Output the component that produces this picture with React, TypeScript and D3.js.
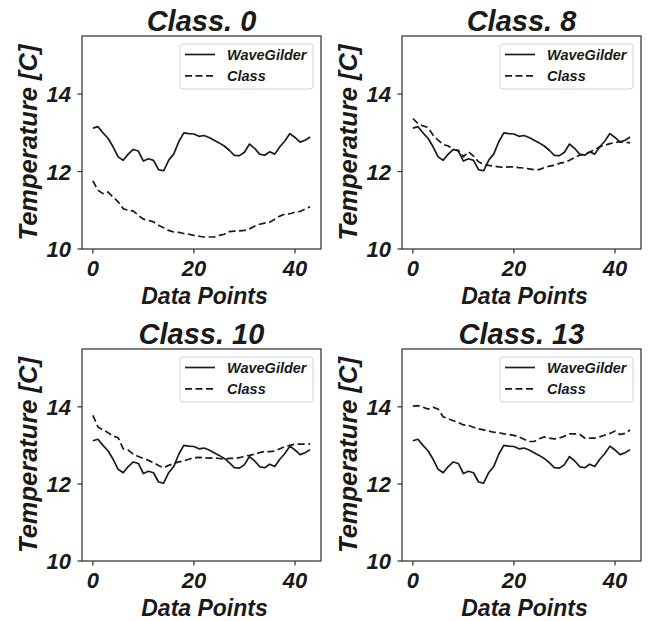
import React from "react";
import * as d3 from "d3";

const waveGilder = [13.12, 13.16, 13.0, 12.86, 12.64, 12.38, 12.29, 12.45, 12.57, 12.53, 12.27, 12.33, 12.29, 12.05, 12.02, 12.29, 12.45, 12.77, 13.0, 12.98, 12.97, 12.91, 12.93, 12.88, 12.81, 12.74, 12.66, 12.55, 12.42, 12.41, 12.5, 12.71, 12.6, 12.45, 12.42, 12.51, 12.45, 12.64, 12.79, 12.98, 12.88, 12.76, 12.81, 12.89];

const class0 = [11.76, 11.52, 11.43, 11.47, 11.34, 11.22, 11.04, 11.0, 10.98, 10.87, 10.77, 10.74, 10.7, 10.61, 10.55, 10.48, 10.44, 10.43, 10.4, 10.38, 10.35, 10.33, 10.31, 10.31, 10.31, 10.35, 10.38, 10.45, 10.46, 10.47, 10.48, 10.52, 10.59, 10.64, 10.67, 10.69, 10.77, 10.85, 10.9, 10.91, 10.95, 10.97, 11.03, 11.09];

const class8 = [13.37, 13.24, 13.18, 13.14, 12.94, 12.81, 12.7, 12.66, 12.57, 12.55, 12.38, 12.51, 12.4, 12.25, 12.19, 12.16, 12.14, 12.12, 12.11, 12.12, 12.12, 12.1, 12.09, 12.07, 12.05, 12.05, 12.1, 12.14, 12.16, 12.21, 12.24, 12.29, 12.36, 12.42, 12.45, 12.5, 12.57, 12.64, 12.68, 12.72, 12.75, 12.77, 12.76, 12.74];

const class10 = [13.78, 13.48, 13.4, 13.33, 13.24, 13.2, 12.91, 12.88, 12.77, 12.71, 12.66, 12.61, 12.55, 12.48, 12.42, 12.48, 12.53, 12.57, 12.6, 12.64, 12.68, 12.69, 12.68, 12.67, 12.68, 12.66, 12.64, 12.66, 12.66, 12.68, 12.72, 12.74, 12.77, 12.81, 12.84, 12.84, 12.85, 12.91, 12.97, 13.0, 13.03, 13.03, 13.03, 13.04];

const class13 = [14.02, 14.03, 13.99, 13.94, 13.99, 13.94, 13.74, 13.69, 13.64, 13.59, 13.53, 13.52, 13.47, 13.43, 13.4, 13.37, 13.34, 13.33, 13.3, 13.28, 13.26, 13.22, 13.16, 13.1, 13.1, 13.17, 13.22, 13.19, 13.17, 13.19, 13.24, 13.3, 13.3, 13.29, 13.19, 13.19, 13.19, 13.22, 13.27, 13.31, 13.37, 13.28, 13.31, 13.4];

const panelTitles = ["Class. 0", "Class. 8", "Class. 10", "Class. 13"];
const classSeries = [class0, class8, class10, class13];
const xTicks = [0, 20, 40];
const yTicks = [10, 12, 14];
const legendLabels = ["WaveGilder", "Class"];
const xLabel = "Data Points";
const yLabel = "Temperature [C]";

const W = 651;
const H = 621;
const FONT = "'Liberation Sans', Arial, Helvetica, sans-serif";
const INK = "#1a1a1a";

const panels = [
  { x0: 82, x1: 321, y0: 36, y1: 249 },
  { x0: 402, x1: 641, y0: 36, y1: 249 },
  { x0: 82, x1: 321, y0: 349, y1: 561 },
  { x0: 402, x1: 641, y0: 349, y1: 561 },
];

function Panel({ idx }: { idx: number }) {
  const p = panels[idx];
  const n = waveGilder.length;
  const x = d3.scaleLinear().domain([-(n - 1) * 0.05, (n - 1) * 1.05]).range([p.x0, p.x1]);
  const y = d3.scaleLinear().domain([10, 15.5]).range([p.y1, p.y0]);
  const line = d3
    .line<number>()
    .x((_, i) => x(i))
    .y((d) => y(d));
  const cx = (p.x0 + p.x1) / 2;
  const cy = (p.y0 + p.y1) / 2;
  const lx = p.x0 + 98;
  const ly = p.y0 + 8;
  return (
    <g>
      <path d={line(classSeries[idx]) || ""} fill="none" stroke={INK} strokeWidth={1.7} strokeDasharray="7,3.5" />
      <path d={line(waveGilder) || ""} fill="none" stroke={INK} strokeWidth={1.7} strokeLinejoin="round" />
      <rect x={p.x0} y={p.y0} width={p.x1 - p.x0} height={p.y1 - p.y0} fill="none" stroke="#333" strokeWidth={1.25} />
      {xTicks.map((t) => (
        <g key={"x" + t}>
          <line x1={x(t)} x2={x(t)} y1={p.y1} y2={p.y1 + 4.5} stroke="#333" strokeWidth={1.25} />
          <text x={x(t)} y={p.y1 + 27} textAnchor="middle" fontFamily={FONT} fontWeight="bold" fontStyle="italic" fontSize={22} fill={INK}>
            {t}
          </text>
        </g>
      ))}
      {yTicks.map((t) => (
        <g key={"y" + t}>
          <line x1={p.x0 - 4.5} x2={p.x0} y1={y(t)} y2={y(t)} stroke="#333" strokeWidth={1.25} />
          <text x={p.x0 - 11} y={y(t) + 8} textAnchor="end" fontFamily={FONT} fontWeight="bold" fontStyle="italic" fontSize={22} fill={INK}>
            {t}
          </text>
        </g>
      ))}
      <text x={cx} y={p.y0 - 5} textAnchor="middle" fontFamily={FONT} fontWeight="bold" fontStyle="italic" fontSize={29} fill={INK}>
        {panelTitles[idx]}
      </text>
      <text x={cx + 3} y={p.y1 + 55} textAnchor="middle" fontFamily={FONT} fontWeight="bold" fontStyle="italic" fontSize={23} fill={INK}>
        {xLabel}
      </text>
      <text
        transform={`translate(${p.x0 - 45.5},${cy}) rotate(-90)`}
        textAnchor="middle"
        fontFamily={FONT}
        fontWeight="bold"
        fontStyle="italic"
        fontSize={25.5}
        fill={INK}
      >
        {yLabel}
      </text>
      <rect x={lx} y={ly} width={133} height={45} rx={3} fill="white" fillOpacity={0.8} stroke="#d0d0d0" strokeWidth={1} />
      {legendLabels.map((lab, i) => (
        <g key={lab}>
          <line
            x1={lx + 5}
            x2={lx + 35}
            y1={ly + 10.5 + i * 21.4}
            y2={ly + 10.5 + i * 21.4}
            stroke={INK}
            strokeWidth={1.7}
            strokeDasharray={i === 1 ? "7,3.5" : undefined}
          />
          <text x={lx + 47} y={ly + 16 + i * 21} fontFamily={FONT} fontWeight="bold" fontStyle="italic" fontSize={14.5} fill={INK}>
            {lab}
          </text>
        </g>
      ))}
    </g>
  );
}

export default function App() {
  return (
    <svg width={W} height={H} style={{ display: "block", position: "absolute", left: 0, top: 0 }}>
      <rect width={W} height={H} fill="white" />
      {panels.map((_, i) => (
        <Panel key={i} idx={i} />
      ))}
    </svg>
  );
}
